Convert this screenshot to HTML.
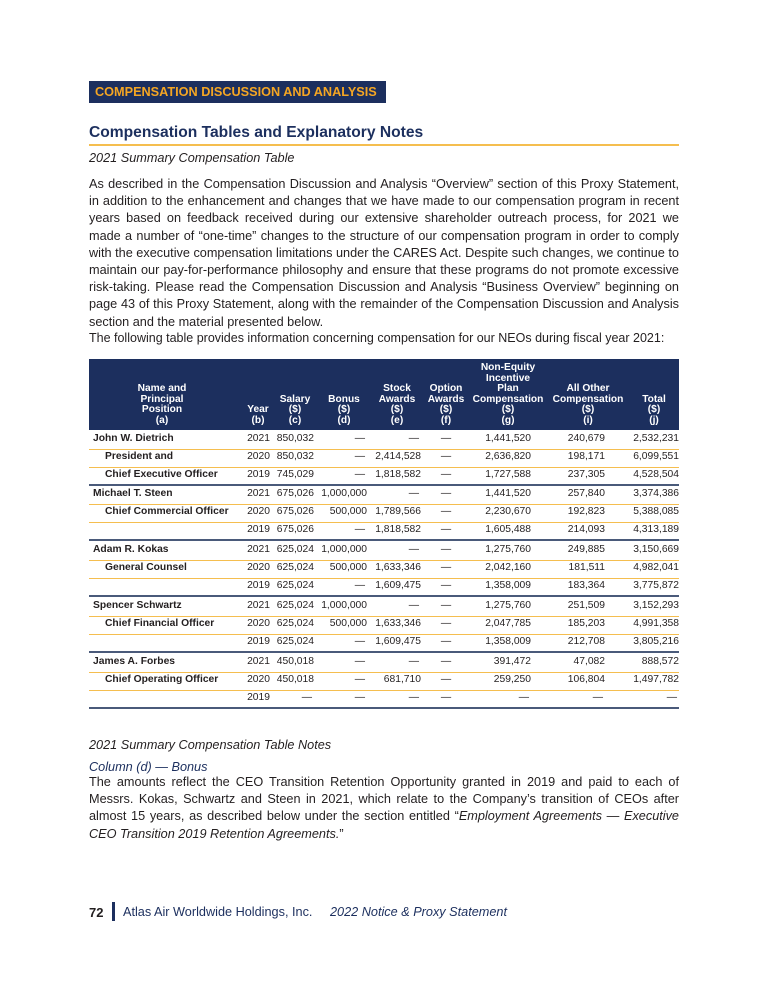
<!DOCTYPE html>
<html><head><meta charset="utf-8"><style>
*{margin:0;padding:0;box-sizing:border-box}
body{width:768px;height:1000px;background:#fff;position:relative;font-family:"Liberation Sans",Arial,sans-serif;color:#231f20;overflow:hidden}
.a{position:absolute;white-space:nowrap}
.banner{left:89px;top:81px;width:297px;height:22px;background:#1c2f5e;color:#f5a623;font-weight:bold;font-size:12.7px;line-height:22px;padding-left:6px}
h1{position:absolute;left:89px;top:124px;font-size:15.6px;color:#1c2f5e;font-weight:bold}
.rule{position:absolute;left:89px;width:590px;height:2px;background:#f5be4f;top:144px}
.it{font-style:italic}
p.body{position:absolute;left:89px;width:590px;font-size:12.7px;line-height:17.2px;text-align:justify}
.hdr{position:absolute;left:89px;top:359px;width:590px;height:71px;background:#1c2f5e}
.h{position:absolute;color:#fff;font-weight:bold;font-size:10.2px;line-height:10.5px;text-align:center;bottom:0}
.c{position:absolute;font-size:10.3px;line-height:12px}
.ln{position:absolute;left:89px;width:590px;height:1px;background:#f5be4f}
.dk{position:absolute;left:89px;width:590px;height:2px;background:#4a5a7a}
</style></head><body>
<div class="a banner">COMPENSATION DISCUSSION AND ANALYSIS</div>
<h1>Compensation Tables and Explanatory Notes</h1>
<div class="rule"></div>
<div class="a it" style="left:89px;top:151px;font-size:12.7px">2021 Summary Compensation Table</div>
<p class="body" style="top:176px">As described in the Compensation Discussion and Analysis “Overview” section of this Proxy Statement, in addition to the enhancement and changes that we have made to our compensation program in recent years based on feedback received during our extensive shareholder outreach process, for 2021 we made a number of “one-time” changes to the structure of our compensation program in order to comply with the executive compensation limitations under the CARES Act. Despite such changes, we continue to maintain our pay-for-performance philosophy and ensure that these programs do not promote excessive risk-taking. Please read the Compensation Discussion and Analysis “Business Overview” beginning on page 43 of this Proxy Statement, along with the remainder of the Compensation Discussion and Analysis section and the material presented below.</p>
<div class="a" style="left:89px;top:331px;font-size:12.5px">The following table provides information concerning compensation for our NEOs during fiscal year 2021:</div>

<div class="hdr">
<div class="h" style="left:28px;width:90px;bottom:4px">Name and<br>Principal<br>Position<br>(a)</div>
<div class="h" style="left:154px;width:30px;bottom:4px">Year<br>(b)</div>
<div class="h" style="left:186px;width:40px;bottom:4px">Salary<br>($)<br>(c)</div>
<div class="h" style="left:235px;width:40px;bottom:4px">Bonus<br>($)<br>(d)</div>
<div class="h" style="left:283px;width:50px;bottom:4px">Stock<br>Awards<br>($)<br>(e)</div>
<div class="h" style="left:332px;width:50px;bottom:4px">Option<br>Awards<br>($)<br>(f)</div>
<div class="h" style="left:380px;width:78px;bottom:4px">Non-Equity<br>Incentive<br>Plan<br>Compensation<br>($)<br>(g)</div>
<div class="h" style="left:459px;width:80px;bottom:4px">All Other<br>Compensation<br>($)<br>(i)</div>
<div class="h" style="left:545px;width:40px;bottom:4px">Total<br>($)<br>(j)</div>
</div>

<div id="rows"></div>

<div class="a it" style="left:89px;top:738px;font-size:12.7px">2021 Summary Compensation Table Notes</div>
<div class="a it" style="left:89px;top:760px;font-size:12.7px;color:#1c2f5e">Column (d) — Bonus</div>
<p class="body" style="top:774px">The amounts reflect the CEO Transition Retention Opportunity granted in 2019 and paid to each of Messrs. Kokas, Schwartz and Steen in 2021, which relate to the Company’s transition of CEOs after almost 15 years, as described below under the section entitled “<i>Employment Agreements — Executive CEO Transition 2019 Retention Agreements.</i>”</p>

<div class="a" style="left:89px;top:905px;font-size:13px;font-weight:bold">72</div>
<div class="a" style="left:112px;top:902px;width:3px;height:19px;background:#1c2f5e"></div>
<div class="a" style="left:123px;top:905px;font-size:12.7px;color:#1c2f5e">Atlas Air Worldwide Holdings, Inc.</div>
<div class="a it" style="left:330px;top:905px;font-size:12.7px;color:#1c2f5e">2022 Notice &amp; Proxy Statement</div>

<script>
var D=[
["John W. Dietrich",0,"2021","850,032","—","—","—","1,441,520","240,679","2,532,231"],
["President and",1,"2020","850,032","—","2,414,528","—","2,636,820","198,171","6,099,551"],
["Chief Executive Officer",1,"2019","745,029","—","1,818,582","—","1,727,588","237,305","4,528,504"],
["Michael T. Steen",0,"2021","675,026","1,000,000","—","—","1,441,520","257,840","3,374,386"],
["Chief Commercial Officer",1,"2020","675,026","500,000","1,789,566","—","2,230,670","192,823","5,388,085"],
["",1,"2019","675,026","—","1,818,582","—","1,605,488","214,093","4,313,189"],
["Adam R. Kokas",0,"2021","625,024","1,000,000","—","—","1,275,760","249,885","3,150,669"],
["General Counsel",1,"2020","625,024","500,000","1,633,346","—","2,042,160","181,511","4,982,041"],
["",1,"2019","625,024","—","1,609,475","—","1,358,009","183,364","3,775,872"],
["Spencer Schwartz",0,"2021","625,024","1,000,000","—","—","1,275,760","251,509","3,152,293"],
["Chief Financial Officer",1,"2020","625,024","500,000","1,633,346","—","2,047,785","185,203","4,991,358"],
["",1,"2019","625,024","—","1,609,475","—","1,358,009","212,708","3,805,216"],
["James A. Forbes",0,"2021","450,018","—","—","—","391,472","47,082","888,572"],
["Chief Operating Officer",1,"2020","450,018","—","681,710","—","259,250","106,804","1,497,782"],
["",1,"2019","—","—","—","—","—","—","—"]];
var R=[270,314,367,421,null,531,605,679];
var cen=[440,458,476,495,513,531,551,569,587,607,625,643,663,681,699];
var h="";
D.forEach(function(r,i){
 var t=cen[i]-7;
 h+='<div class="c" style="left:'+(r[1]?105:93)+'px;top:'+t+'px;font-weight:bold">'+r[0]+'</div>';
 for(var k=0;k<8;k++){
  var v=r[k+2];
  if(k==4){h+='<div class="c" style="left:426px;width:40px;text-align:center;top:'+t+'px">'+v+'</div>';continue;}
  var rr=R[k]; if(v=="—" && k>0) rr-=2;
  h+='<div class="c" style="right:'+(768-rr)+'px;top:'+t+'px">'+v+'</div>';
 }
 var y=cen[i]+9;
 if(i%3==2) h+='<div class="dk" style="top:'+(y-1)+'px"></div>';
 else h+='<div class="ln" style="top:'+y+'px"></div>';
});
document.getElementById("rows").innerHTML=h;
</script>
</body></html>
